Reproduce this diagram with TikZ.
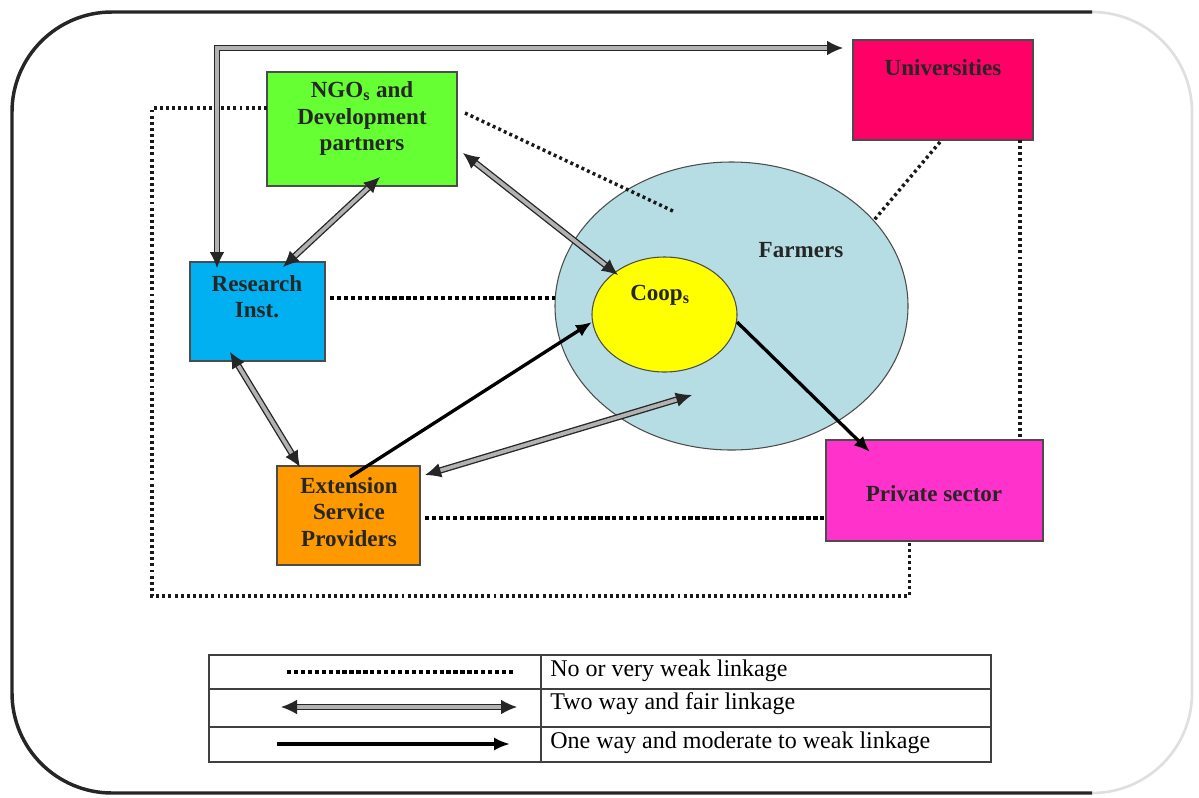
\documentclass[tikz,border=0pt]{standalone}
\usepackage{fontspec}
\setmainfont{Liberation Serif}
\usetikzlibrary{arrows.meta,shapes.geometric}
\definecolor{univc}{HTML}{FF0066}
\definecolor{ngoc}{HTML}{66FF33}
\definecolor{resc}{HTML}{00B0F0}
\definecolor{extc}{HTML}{FF9900}
\definecolor{privc}{HTML}{FF33CC}
\definecolor{farmc}{HTML}{B6DDE3}
\definecolor{coopc}{HTML}{FFFF00}
\begin{document}
\begin{tikzpicture}[x=0.75pt,y=-0.75pt,
  box/.style={draw=black!70, line width=0.9pt, inner sep=0pt, outer sep=0pt},
  oval/.style={ellipse, draw=black!70, line width=0.8pt, inner sep=0pt, outer sep=0pt},
  lbl/.style={font=\fontsize{17.3}{20}\selectfont\bfseries, align=center, inner sep=0pt, text=black!85},
  legtxt/.style={font=\fontsize{18}{20}\selectfont, inner sep=0pt, anchor=west},
  twoway/.style={draw=black!85, line width=1pt, double=gray!60, double distance=2.8pt,
    {Latex[length=12pt,width=11pt]}-{Latex[length=12pt,width=11pt]}},
  oneway/.style={draw=black, line width=2.5pt, -{Latex[length=12pt,width=10pt]}},
  weak/.style={draw=black, line width=3.2pt, dash pattern=on 3.2pt off 2pt},
  weakthin/.style={draw=black!90, line width=2.6pt, dash pattern=on 2.2pt off 2.4pt}
]
\useasboundingbox (0,0) rectangle (1199,797);

% outer frame
\draw[line width=2pt, gray!25] (1092,12) arc[start angle=270,end angle=360,radius=100] -- (1192,693) arc[start angle=0,end angle=90,radius=100];
\draw[line width=2.6pt, black!85] (1092,12) -- (112,12) arc[start angle=270,end angle=180,radius=100] -- (12,693) arc[start angle=180,end angle=90,radius=100] -- (1092,793);

% ellipses
\node[oval, fill=farmc, minimum width=264.75pt, minimum height=216pt] (farmers) at (731.5,306) {};
\node[oval, fill=coopc, minimum width=108.75pt, minimum height=86.25pt] (coops) at (664.5,314.5) {};

% boxes
\node[box, fill=univc, minimum width=135pt, minimum height=75pt] (universities) at (943,90) {};
\node[box, fill=ngoc, minimum width=142.5pt, minimum height=85.5pt] (ngo) at (362,129) {};
\node[box, fill=resc, minimum width=101.25pt, minimum height=74.25pt] (research) at (257.5,311.5) {};
\node[box, fill=extc, minimum width=107.25pt, minimum height=74.25pt] (extension) at (348.5,515.5) {};
\node[box, fill=privc, minimum width=162.75pt, minimum height=75.75pt] (private) at (934.5,490.5) {};

% labels
\node[lbl] (luniv) at (943,68) {Universities};
\node[lbl] (lngo) at (362,118.5) {NGO\textsubscript{s} and\\Development\\partners};
\node[lbl] (lres) at (257,296.5) {Research\\Inst.};
\node[lbl] (lext) at (349,512) {Extension\\Service\\Providers};
\node[lbl] (lpriv) at (934,493.5) {Private sector};
\node[lbl] (lcoop) at (660,295) {Coop\textsubscript{s}};
\node[lbl] (lfarm) at (801,250) {Farmers};

% weak links
\draw[weak] ([shift={(5,-13.5)}]research.east) -- ([shift={(0,-8)}]farmers.west);
\draw[weak] ([shift={(5,2.5)}]extension.east) -- ([shift={(0,27.5)}]private.west);
\draw[weakthin] ([shift={(8,-16)}]ngo.east) -- ([shift={(-56.5,-94)}]farmers.center);
\draw[weakthin] ([shift={(-3,2)}]universities.south) -- (farmers.31);
\draw[weakthin] ([shift={(-13,0)}]universities.south east) -- ([shift={(-23,0)}]private.north east);
\draw[weakthin] ([shift={(0,-21)}]ngo.west) -- ++(-115,0) -- ++(0,488) -| ([shift={(-25,0)}]private.south);

% two-way links
\draw[twoway] ([shift={(18,-9)}]ngo.south) -- ([shift={(25.5,5)}]research.north);
\draw[twoway] ([shift={(6,24)}]ngo.east) -- ([shift={(-46.5,-39.5)}]coops.center);
\draw[twoway] ([shift={(-27.5,-9)}]research.south) -- ([shift={(-48.5,1)}]extension.north);
\draw[twoway] ([shift={(5,9)}]extension.north east) -- ([shift={(-39.5,89)}]farmers.center);
\draw[twoway] ([shift={(27,6)}]research.north west) |- ([shift={(-10,-42)}]universities.west);

% one-way links
\draw[oneway] ([shift={(1.5,11)}]extension.north) -- ([shift={(0,7.5)}]coops.west);
\draw[oneway] ([shift={(0,7.5)}]coops.east) -- ([shift={(44,12)}]private.north west);

% legend
\draw[line width=0.9pt, black!75] (209,655) rectangle (991,762);
\draw[line width=0.9pt, black!75] (209,689) -- (991,689);
\draw[line width=0.9pt, black!75] (209,727) -- (991,727);
\draw[line width=0.9pt, black!75] (541,655) -- (541,762);
\coordinate (l1a) at (287,672); \coordinate (l1b) at (514,672);
\coordinate (l2a) at (281,707); \coordinate (l2b) at (517,707);
\coordinate (l3a) at (277,744); \coordinate (l3b) at (510,744);
\draw[weak] (l1a) -- (l1b);
\draw[twoway] (l2a) -- (l2b);
\draw[oneway] (l3a) -- (l3b);
\node[legtxt] (t1) at (550,671) {No or very weak linkage};
\node[legtxt] (t2) at (550,704) {Two way and fair linkage};
\node[legtxt] (t3) at (550,743) {One way and moderate to weak linkage};
\end{tikzpicture}
\end{document}
